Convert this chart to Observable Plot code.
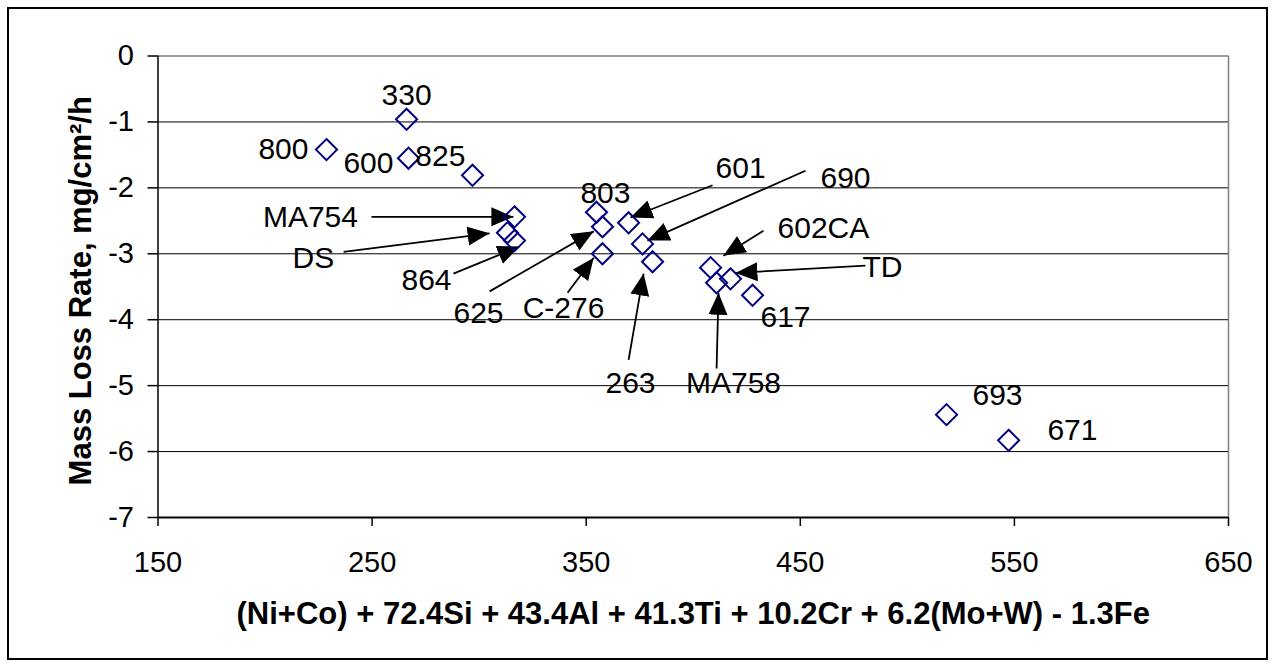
<!DOCTYPE html>
<html><head><meta charset="utf-8">
<script src="https://cdn.jsdelivr.net/npm/d3@7"></script>
<script src="https://cdn.jsdelivr.net/npm/@observablehq/plot@0.6"></script>
<style>
body{margin:0;background:#fff;font-family:"Liberation Sans",Arial,sans-serif;}
#wrap{position:relative;width:1275px;height:666px;}
#border{position:absolute;left:7px;top:7px;width:1261px;height:653px;border:2px solid #000;box-sizing:border-box;pointer-events:none;}
#wrap svg{position:absolute;left:0;top:0;}
</style></head><body><div id="wrap"><div id="border"></div></div>
<script>
// Alloys and their measured values
const alloys   = ["330","800","600","825","MA754","DS","864","803","625","601","C-276","690","263","602CA","MA758","TD","617","693","671"];
const indexVal = [266.1,228.7,267.0,296.9,316.5,313.2,316.5,354.8,357.6,369.8,357.6,376.3,381.0,408.1,410.9,417.4,427.7,518.3,547.3];
const lossRate = [-0.96,-1.42,-1.55,-1.81,-2.44,-2.68,-2.80,-2.37,-2.59,-2.53,-3.00,-2.85,-3.12,-3.21,-3.44,-3.38,-3.63,-5.44,-5.83];

// Label anchor positions (data units), same order as alloys
const labelX = [266.1,208.6,248.3,281.9,221.2,222.6,275.4,359.0,299.7,422.1,339.4,471.1,370.7,460.8,418.8,488.4,443.1,542.1,577.1];
const labelY = [-0.60,-1.42,-1.63,-1.53,-2.45,-3.07,-3.41,-2.09,-3.91,-1.71,-3.83,-1.86,-4.97,-2.62,-4.97,-3.21,-3.97,-5.15,-5.68];

// Leader arrows (data units)
const arrowFor = ["MA754","DS","864","625","C-276","263","601","690","602CA","TD","MA758"];
const arrowX1 = [249.7,236.7,288.0,304.9,341.3,369.8,409.0,452.4,432.8,480.4,410.9];
const arrowY1 = [-2.44,-2.97,-3.30,-3.57,-3.59,-4.61,-1.96,-1.74,-2.65,-3.18,-4.74];
const arrowX2 = [316.0,304.9,318.9,353.5,353.5,376.8,370.7,378.6,414.1,419.7,411.8];
const arrowY2 = [-2.44,-2.69,-2.89,-2.66,-3.06,-3.30,-2.45,-2.80,-3.03,-3.29,-3.59];

const xTicks = [150,250,350,450,550,650];
const yTicks = [0,-1,-2,-3,-4,-5,-6,-7];
const yGrid  = [-1,-2,-3,-4,-5,-6];
const xTitle = "(Ni+Co) + 72.4Si + 43.4Al + 41.3Ti + 10.2Cr + 6.2(Mo+W) - 1.3Fe";
const yTitle = "Mass Loss Rate, mg/cm²/h";

const points = alloys.map((a,i)=>({alloy:a, x:indexVal[i], y:lossRate[i]}));
const labels = alloys.map((a,i)=>({alloy:a, x:labelX[i], y:labelY[i]}));
const arrows = arrowFor.map((a,i)=>({alloy:a, x1:arrowX1[i], y1:arrowY1[i], x2:arrowX2[i], y2:arrowY2[i]}));

function filledHead(color, context){
  const doc = (context && context.document) || document;
  const ns = "http://www.w3.org/2000/svg";
  const m = doc.createElementNS(ns,"marker");
  m.setAttribute("viewBox","0 -10 22 20");
  m.setAttribute("markerWidth","22");
  m.setAttribute("markerHeight","20");
  m.setAttribute("markerUnits","userSpaceOnUse");
  m.setAttribute("refX","22");
  m.setAttribute("refY","0");
  m.setAttribute("orient","auto");
  const p = doc.createElementNS(ns,"path");
  p.setAttribute("d","M0,-9.5L22,0L0,9.5Z");
  p.setAttribute("fill",color);
  p.setAttribute("stroke","none");
  m.appendChild(p);
  return m;
}

const chart = Plot.plot({
  width:1275, height:666,
  marginLeft:157.5, marginRight:47, marginTop:55.5, marginBottom:149,
  style:{fontFamily:"'Liberation Sans', Arial, sans-serif", fontSize:"29px", color:"#000", background:"transparent", overflow:"visible"},
  x:{domain:[150,650], label:null},
  y:{domain:[-7,0], label:null},
  marks:[
    Plot.ruleY(yGrid, {stroke:"#000", strokeWidth:1}),
    Plot.ruleY([0], {stroke:"#808080", strokeWidth:1.5}),
    Plot.ruleX([650], {stroke:"#808080", strokeWidth:1.5}),
    Plot.ruleX([150], {stroke:"#000", strokeWidth:1.5}),
    Plot.ruleY([-7], {stroke:"#000", strokeWidth:2}),
    Plot.axisX(xTicks, {tickSize:9, tickPadding:25, label:null, fontSize:29, strokeWidth:1.5, tickFormat:d=>String(d)}),
    Plot.axisY(yTicks, {tickSize:10, tickPadding:14, label:null, fontSize:29, strokeWidth:1.5, tickFormat:d=>String(d)}),
    Plot.text([xTitle], {frameAnchor:"bottom", textAnchor:"middle", lineAnchor:"middle", dy:97, fontWeight:"bold", fontSize:31, fill:"#000"}),
    Plot.text([yTitle], {frameAnchor:"left", textAnchor:"middle", lineAnchor:"middle", rotate:-90, dx:-77, dy:4, fontWeight:"bold", fontSize:31, fill:"#000"}),
    Plot.link(arrows, {x1:"x1", y1:"y1", x2:"x2", y2:"y2", stroke:"#000", strokeWidth:1.8, markerEnd:filledHead}),
    Plot.dot(points, {x:"x", y:"y", symbol:"diamond2", r:9.5, stroke:"#000080", strokeWidth:2, fill:"none"}),
    Plot.text(labels, {x:"x", y:"y", text:"alloy", fontSize:30, fill:"#000"})
  ]
});
document.getElementById("wrap").appendChild(chart);
</script>
</body></html>
